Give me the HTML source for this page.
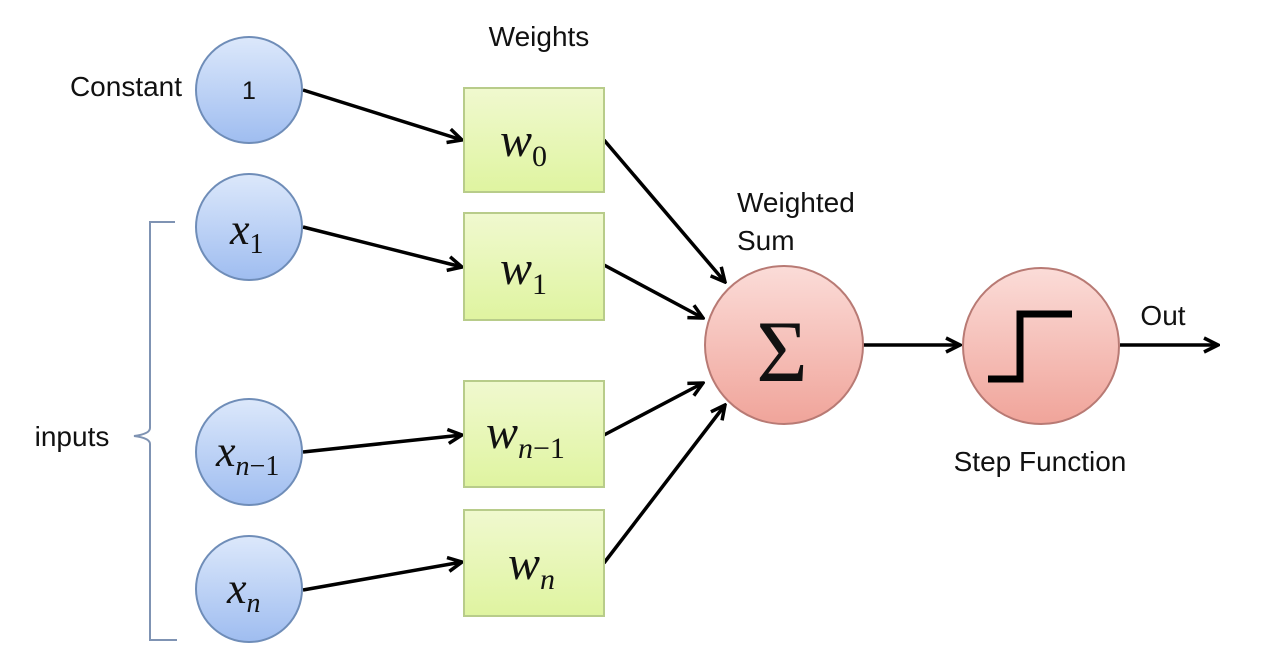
<!DOCTYPE html>
<html><head><style>body{margin:0;background:#fff}svg{display:block}</style></head><body>
<svg width="1273" height="658" viewBox="0 0 1273 658" xmlns="http://www.w3.org/2000/svg">
<defs>
<linearGradient id="b" x1="0" y1="0" x2="0" y2="1"><stop offset="0" stop-color="#dce8fb"/><stop offset="1" stop-color="#9fbdf0"/></linearGradient>
<linearGradient id="g" x1="0" y1="0" x2="0" y2="1"><stop offset="0" stop-color="#f0f9cf"/><stop offset="1" stop-color="#dff4a0"/></linearGradient>
<linearGradient id="r" x1="0" y1="0" x2="0" y2="1"><stop offset="0" stop-color="#fbdcd8"/><stop offset="1" stop-color="#f0a49a"/></linearGradient>
<marker id="a" markerWidth="18" markerHeight="18" refX="16" refY="9" orient="auto" markerUnits="userSpaceOnUse"><path d="M2,2 L16,9 L2,16" fill="none" stroke="#000" stroke-width="3.5"/></marker>
</defs>
<g stroke="#000" stroke-width="3.5" marker-end="url(#a)">
<line x1="303" y1="90" x2="462" y2="140"/>
<line x1="303" y1="227" x2="462" y2="267"/>
<line x1="303" y1="452" x2="462" y2="435"/>
<line x1="303" y1="590" x2="462" y2="562"/>
<line x1="604" y1="140" x2="725" y2="282"/>
<line x1="604" y1="265" x2="703" y2="318"/>
<line x1="604" y1="435" x2="703" y2="383"/>
<line x1="604" y1="563" x2="725" y2="405"/>
<line x1="863" y1="345" x2="960" y2="345"/>
<line x1="1120" y1="345" x2="1218" y2="345"/>
</g>
<g fill="url(#b)" stroke="#6f8db8" stroke-width="2">
<circle cx="249" cy="90" r="53"/><circle cx="249" cy="227" r="53"/><circle cx="249" cy="452" r="53"/><circle cx="249" cy="589" r="53"/>
</g>
<g fill="url(#g)" stroke="#b8cc8a" stroke-width="2">
<rect x="464" y="88" width="140" height="104"/><rect x="464" y="213" width="140" height="107"/><rect x="464" y="381" width="140" height="106"/><rect x="464" y="510" width="140" height="106"/>
</g>
<g fill="url(#r)" stroke="#b87a74" stroke-width="2">
<circle cx="784" cy="345" r="79"/><circle cx="1041" cy="346" r="78"/>
</g>
<path d="M988,379 H1020 V314 H1072" fill="none" stroke="#000" stroke-width="7"/>
<path d="M175,222 H150 V428 Q150,434 134,436 Q150,438 150,444 V640 H177" fill="none" stroke="#7f93b3" stroke-width="2"/>
<g font-family="Liberation Sans, sans-serif" font-size="28" fill="#111">
<text x="539" y="46" text-anchor="middle">Weights</text>
<text x="126" y="96" text-anchor="middle">Constant</text>
<text x="737" y="212">Weighted</text>
<text x="737" y="250">Sum</text>
<text x="1163" y="325" text-anchor="middle">Out</text>
<text x="1040" y="471" text-anchor="middle">Step Function</text>
<text x="72" y="446" text-anchor="middle">inputs</text>
<text x="249" y="99" text-anchor="middle" font-size="25">1</text>
</g>
<g font-family="Liberation Serif, serif" font-style="italic" fill="#111">
<text x="230" y="244" font-size="44">x<tspan font-size="28" font-style="normal" dy="9">1</tspan></text>
<text x="216" y="466" font-size="44">x<tspan font-size="28" dy="9">n</tspan><tspan font-size="28" font-style="normal">−1</tspan></text>
<text x="227" y="603" font-size="44">x<tspan font-size="28" dy="9">n</tspan></text>
<text x="500" y="156" font-size="48">w<tspan font-size="30" font-style="normal" dy="10">0</tspan></text>
<text x="500" y="284" font-size="48">w<tspan font-size="30" font-style="normal" dy="10">1</tspan></text>
<text x="486" y="448" font-size="48">w<tspan font-size="30" dy="10">n</tspan><tspan font-size="30" font-style="normal">−1</tspan></text>
<text x="508" y="579" font-size="48">w<tspan font-size="30" dy="10">n</tspan></text>
</g>
<text x="782" y="381" font-family="Liberation Serif, serif" font-size="88" text-anchor="middle" fill="#111">Σ</text>
</svg>
</body></html>
